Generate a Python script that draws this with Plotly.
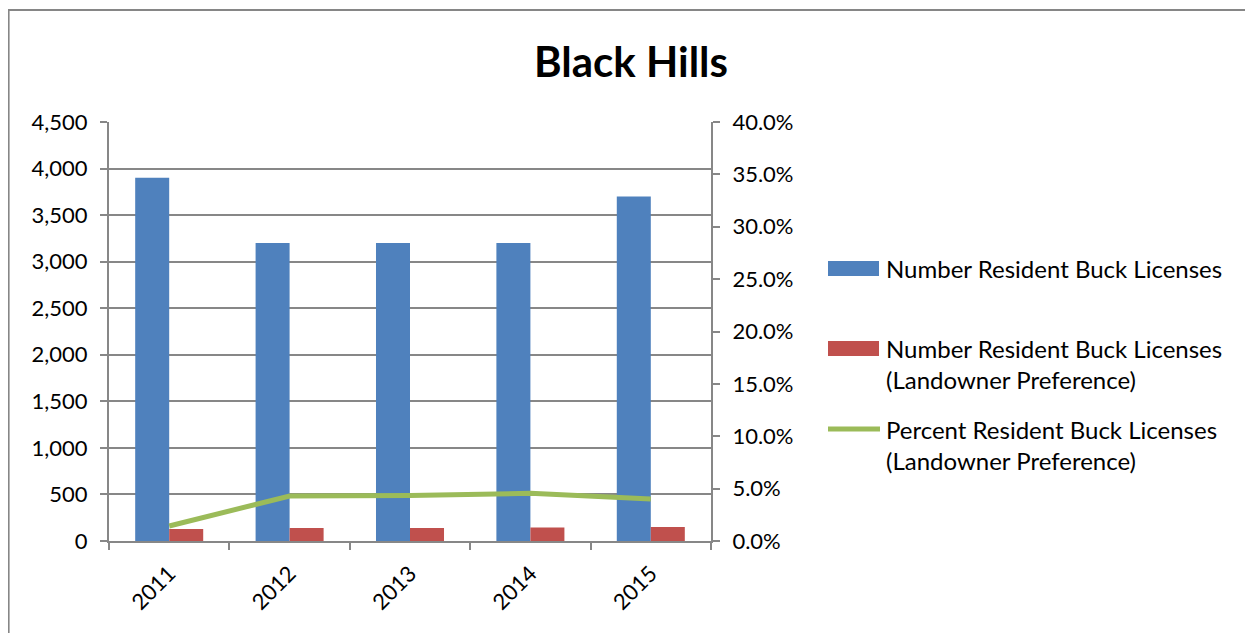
import plotly.graph_objects as go

years = ['2011', '2012', '2013', '2014', '2015']
resident_buck = [3900, 3200, 3200, 3200, 3700]
landowner_buck = [130, 140, 140, 145, 150]
landowner_pct = [0.0143, 0.0430, 0.0435, 0.0455, 0.0400]

legend_names = ['Number Resident Buck Licenses',
                'Number Resident Buck Licenses<br>(Landowner Preference)',
                'Percent Resident Buck Licenses<br>(Landowner Preference)']

BLUE = '#4F81BD'
RED = '#C0504D'
GREEN = '#9BBB59'
GRID = '#878787'
FONT = 'Lato'

# page has an 8px body margin, so the figure is a bit smaller than the window
OFF = 8
W, H = 1253 - OFF, 633 - OFF
# plot area in screen pixels
L, R, T, B = 109, 711, 122, 541


def px(x):
    return (x - L) / (R - L)


def py(y):
    return (B - y) / (B - T)


fig = go.Figure()
fig.add_trace(go.Bar(x=years, y=resident_buck, name=legend_names[0],
                     marker=dict(color=BLUE, line=dict(width=0)), showlegend=False))
fig.add_trace(go.Bar(x=years, y=landowner_buck, name=legend_names[1],
                     marker=dict(color=RED, line=dict(width=0)), showlegend=False))
fig.add_trace(go.Scatter(x=years, y=landowner_pct, name=legend_names[2], yaxis='y2',
                         mode='lines', line=dict(color=GREEN, width=5), showlegend=False))

# hand-made legend (wide swatches like the original)
shapes = [
    dict(type='rect', xref='paper', yref='paper', x0=px(8.6), x1=px(1270), y0=py(650), y1=py(10),
         line=dict(color='#868686', width=2), fillcolor='rgba(0,0,0,0)', layer='below'),
    dict(type='rect', xref='paper', yref='paper', x0=px(828), x1=px(879), y0=py(276), y1=py(261),
         fillcolor=BLUE, line=dict(width=0)),
    dict(type='rect', xref='paper', yref='paper', x0=px(828), x1=px(879), y0=py(356), y1=py(341),
         fillcolor=RED, line=dict(width=0)),
    dict(type='line', xref='paper', yref='paper', x0=px(828), x1=px(880), y0=py(429), y1=py(429),
         line=dict(color=GREEN, width=5)),
]
annotations = []
for name, yc in zip(legend_names, [268, 364, 445]):
    annotations.append(dict(text=name, xref='paper', yref='paper', x=px(884), y=py(yc),
                            xanchor='left', yanchor='middle', align='left', showarrow=False,
                            font=dict(family=FONT, size=24, color='black')))

fig.update_layout(
    width=W, height=H,
    margin=dict(l=L - OFF, r=W - (R - OFF), t=T - OFF, b=H - (B - OFF)),
    paper_bgcolor='white', plot_bgcolor='white',
    font=dict(family=FONT, size=22, color='black'),
    title=dict(text='<b>Black Hills</b>', x=(631 - OFF) / W, xref='container', xanchor='center',
               y=1 - (62 - OFF) / H, yanchor='middle', font=dict(family=FONT, size=42, color='black')),
    barmode='group', bargap=0.435, bargroupgap=0,
    xaxis=dict(type='category', showline=True, linecolor=GRID, linewidth=2, ticks='outside',
               tickson='boundaries', ticklen=7, tickcolor=GRID, tickwidth=2, tickangle=-45,
               showgrid=False, zeroline=False, ticklabelstandoff=9),
    yaxis=dict(range=[0, 4500], dtick=500, tickformat=',', showline=True, linecolor=GRID,
               linewidth=2, ticks='outside', ticklen=7, tickcolor=GRID, tickwidth=2,
               showgrid=True, gridcolor=GRID, gridwidth=2, zeroline=False, ticklabelstandoff=8),
    yaxis2=dict(range=[0, 0.4], dtick=0.05, tickformat='.1%', overlaying='y', side='right',
                showline=True, linecolor=GRID, linewidth=2, ticks='outside', ticklen=7,
                tickcolor=GRID, tickwidth=2, showgrid=False, zeroline=False, ticklabelstandoff=8),
    shapes=shapes, annotations=annotations,
)

fig.write_html('out.html')
